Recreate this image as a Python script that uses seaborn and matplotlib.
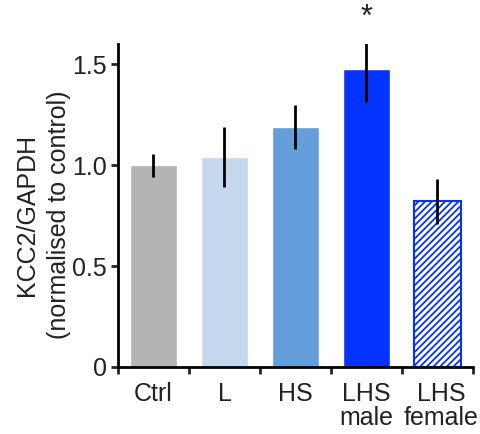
import matplotlib
matplotlib.use("Agg")
import matplotlib.pyplot as plt
import matplotlib.transforms as mtransforms
import seaborn as sns
import pandas as pd
import numpy as np

categories = ["Ctrl", "L", "HS", "LHS\nmale", "LHS\nfemale"]
values = [1.00, 1.04, 1.19, 1.475, 0.82]
errors = [0.057, 0.15, 0.11, 0.16, 0.11]
colors = ["#b4b4b4", "#c5d7ec", "#659fdb", "#0433ff", "#ffffff"]
yticks = [0, 0.5, 1.0, 1.5]
ytick_labels = ["0", "0.5", "1.0", "1.5"]

sns.set_style("white")
plt.rcParams['font.family'] = ['Liberation Sans', 'DejaVu Sans']
plt.rcParams['hatch.linewidth'] = 1.3
plt.rcParams['hatch.color'] = "#0433ff"

fig = plt.figure(figsize=(4.81, 4.34), dpi=100)
ax = fig.add_axes([0.2453, 0.1544, 0.983 - 0.2453, 0.8986 - 0.1544])

df = pd.DataFrame({"cat": categories, "val": values})
sns.barplot(data=df, x="cat", y="val", hue="cat", palette=colors, legend=False,
            width=0.66, ax=ax, saturation=1, errorbar=None)

# hatched last bar
last = ax.patches[-1]
last.set_hatch("/////")
last.set_edgecolor("#0433ff")
last.set_linewidth(1.5)
last.set_facecolor("white")

x = np.arange(len(categories))
ax.errorbar(x, values, yerr=errors, fmt="none", ecolor="black", elinewidth=2, capsize=0, zorder=5)

ax.text(3, 1.73, "*", ha="center", va="center", fontsize=22, clip_on=False, color="#222222")

ax.set_xlim(-0.5, 4.5)
ax.set_ylim(0, 1.60)
ax.set_yticks(yticks)
ax.set_yticklabels(ytick_labels, fontsize=18, color="#222222")
ax.set_xticks(np.arange(-0.5, 4.6, 1.0))
ax.set_xticklabels([""] * 6)
ax.set_xticks(x, minor=True)
ax.set_xticklabels(categories, minor=True, fontsize=18, linespacing=1.0, color="#222222")
ax.tick_params(axis="x", which="minor", length=0, pad=11)
ax.tick_params(axis="x", which="major", direction="out", length=5, width=2, bottom=True)
ax.tick_params(axis="y", direction="out", length=5, width=2, left=True, pad=3)
xlabels = ax.get_xticklabels(minor=True)
for lbl in xlabels:
    lbl.set_va("top")
# nudge last label right a little, as in the reference
xlabels[-1].set_transform(xlabels[-1].get_transform() +
                          mtransforms.ScaledTranslation(4 / 100, 0, fig.dpi_scale_trans))

ax.set_xlabel("")
ax.set_ylabel("KCC2/GAPDH\n(normalised to control)", fontsize=18, linespacing=1.45, color="#222222")
ax.yaxis.set_label_coords(-0.132, 0.47)

for s in ["top", "right"]:
    ax.spines[s].set_visible(False)
for s in ["left", "bottom"]:
    ax.spines[s].set_linewidth(2)
    ax.spines[s].set_color("black")

fig.savefig("out.png", dpi=100)
